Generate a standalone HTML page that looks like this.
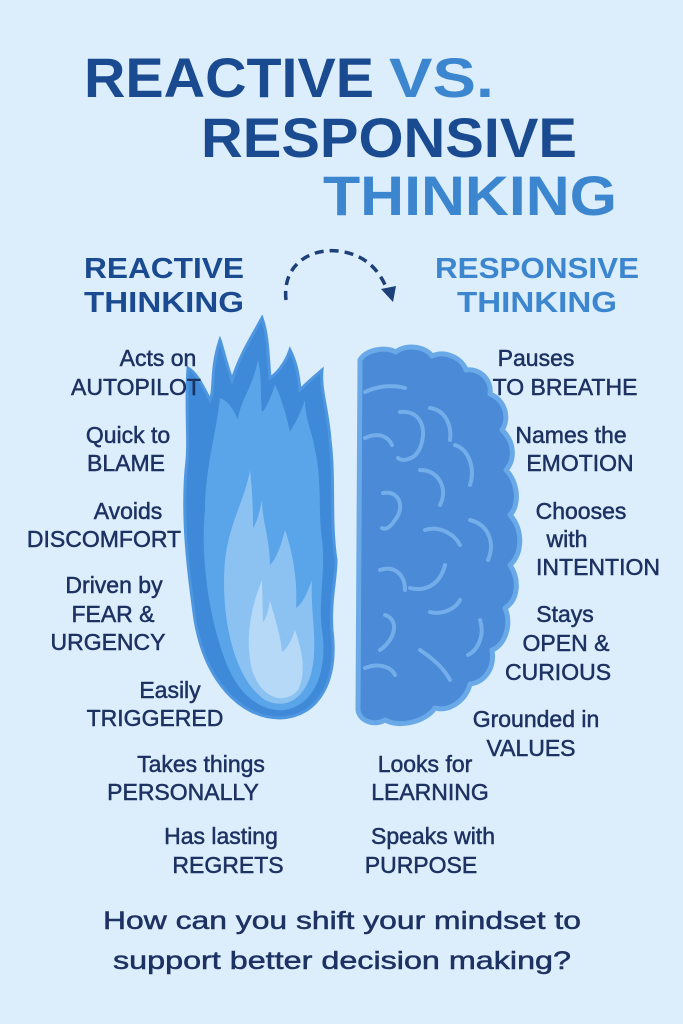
<!DOCTYPE html>
<html><head><meta charset="utf-8"><style>
html,body{margin:0;padding:0;background:#dcedfb;}
svg{display:block}
text{font-family:"Liberation Sans",sans-serif;}
.t{font-weight:bold;}
.l{font-size:23px;fill:#1d3262;text-anchor:middle;stroke:#1d3262;stroke-width:0.5;}
</style></head><body>
<svg width="683" height="1024" viewBox="0 0 683 1024">
<rect width="683" height="1024" fill="#dcedfb"/>
<!-- Title -->
<text x="84" y="97" class="t" font-size="56" fill="#1a4b91" textLength="290" lengthAdjust="spacingAndGlyphs">REACTIVE</text>
<text x="389" y="97" class="t" font-size="56" fill="#3b86cf" textLength="105" lengthAdjust="spacingAndGlyphs">VS.</text>
<text x="201" y="157" class="t" font-size="56" fill="#1a4b91" textLength="376" lengthAdjust="spacingAndGlyphs">RESPONSIVE</text>
<text x="323" y="215" class="t" font-size="56" fill="#3b86cf" textLength="294" lengthAdjust="spacingAndGlyphs">THINKING</text>
<!-- headers -->
<text x="164" y="278" class="t" font-size="29" fill="#1a4b91" text-anchor="middle" textLength="160" lengthAdjust="spacingAndGlyphs">REACTIVE</text>
<text x="164" y="312" class="t" font-size="29" fill="#1a4b91" text-anchor="middle" textLength="160" lengthAdjust="spacingAndGlyphs">THINKING</text>
<text x="537" y="278" class="t" font-size="29" fill="#3b86cf" text-anchor="middle" textLength="204" lengthAdjust="spacingAndGlyphs">RESPONSIVE</text>
<text x="537" y="312" class="t" font-size="29" fill="#3b86cf" text-anchor="middle" textLength="160" lengthAdjust="spacingAndGlyphs">THINKING</text>
<!-- arrow -->
<path d="M286 300 C282 265 310 248 338 251 C365 254 380 270 388 292" fill="none" stroke="#1d3f7a" stroke-width="3.5" stroke-dasharray="9 6"/>
<path d="M381 289 L396 286 L393 302 Z" fill="#1d3f7a"/>
<!-- flame -->
<path d="M262 318 C250 340 240 355 232 380 C225 360 222 345 220 340 C210 370 215 390 210 400 C200 380 195 372 188 368 C185 410 190 440 186 470 C182 520 188 570 195 620 C205 680 240 718 280 718 C320 716 338 680 332 630 C330 600 336 580 336 560 C330 520 335 480 330 440 C328 410 320 390 322 370 C310 380 305 385 300 390 C298 370 295 360 290 350 C285 365 275 375 270 378 C268 355 268 335 262 318 Z" fill="#3f8ad8" stroke="#4e97e0" stroke-width="3"/>
<path d="M258 360 C252 390 240 400 238 420 C232 405 225 400 220 398 C215 440 205 470 205 510 C200 560 210 620 225 660 C240 700 265 712 285 710 C315 705 328 670 322 630 C318 600 326 570 322 540 C318 510 322 480 315 450 C312 430 305 420 305 400 C298 420 292 428 290 432 C285 410 280 395 275 385 C270 400 265 410 262 412 C260 395 262 375 258 360 Z" fill="#5aa4ea"/>
<path d="M250 470 C245 500 230 520 225 560 C220 620 235 680 265 700 C285 710 305 700 312 670 C318 640 310 610 312 580 C305 600 300 605 296 608 C298 580 292 550 285 530 C280 550 275 560 270 565 C270 540 262 520 262 500 C258 520 255 525 253 528 C253 505 252 490 250 470 Z" fill="#8cc2f2"/>
<path d="M262 580 C250 610 245 640 252 670 C262 700 285 705 298 690 C308 670 300 645 295 630 C290 645 285 650 282 652 C280 630 272 610 270 600 C268 615 265 620 263 622 Z" fill="#b6d9f7"/>
<!-- brain -->
<path d="M360 360 C366 350 385 346 396 352 C405 344 425 346 432 356 C445 350 462 358 466 370 C480 368 492 380 490 394 C505 400 510 418 502 430 C515 442 515 460 506 470 C518 482 520 505 510 515 C524 530 522 555 510 565 C520 580 518 600 505 608 C512 625 505 645 492 650 C495 668 485 682 470 684 C466 700 450 712 435 708 C425 722 400 728 385 720 C375 726 360 722 358 710 Z" fill="#4a8ad6" stroke="#6aa9e8" stroke-width="5" stroke-linejoin="round"/>
<g fill="none" stroke="#73aeea" stroke-width="4" stroke-linecap="round">
<path d="M365 392 C380 385 395 385 405 388"/>
<path d="M400 412 C420 410 428 428 420 448 C415 460 402 462 398 458"/>
<path d="M430 408 C445 410 452 425 450 440"/>
<path d="M455 445 C470 450 475 470 470 485"/>
<path d="M365 438 C378 432 388 436 392 445"/>
<path d="M383 493 C400 490 405 508 395 520 C390 528 385 530 382 528"/>
<path d="M420 470 C440 470 448 490 440 505"/>
<path d="M470 520 C490 525 495 545 488 560"/>
<path d="M425 530 C440 525 455 535 460 545"/>
<path d="M380 570 C395 565 405 575 405 590"/>
<path d="M445 565 C440 585 425 592 410 588"/>
<path d="M460 600 C455 610 440 615 430 612"/>
<path d="M385 615 C400 620 395 640 380 650"/>
<path d="M480 620 C485 635 478 650 468 655"/>
<path d="M420 650 C435 660 445 670 450 680"/>
<path d="M365 668 C380 662 392 668 395 675"/>
</g>
<!-- left list -->
<g class="l">
<text x="158" y="366">Acts on</text>
<text x="136" y="395">AUTOPILOT</text>
<text x="128" y="443">Quick to</text>
<text x="126" y="471">BLAME</text>
<text x="128" y="519">Avoids</text>
<text x="104" y="547">DISCOMFORT</text>
<text x="114" y="593">Driven by</text>
<text x="113" y="622">FEAR &amp;</text>
<text x="108" y="650">URGENCY</text>
<text x="170" y="698">Easily</text>
<text x="155" y="726">TRIGGERED</text>
<text x="201" y="772">Takes things</text>
<text x="183" y="800">PERSONALLY</text>
<text x="221" y="844">Has lasting</text>
<text x="228" y="873">REGRETS</text>
<!-- right list -->
<text x="536" y="366">Pauses</text>
<text x="565" y="395">TO BREATHE</text>
<text x="571" y="443">Names the</text>
<text x="580" y="471">EMOTION</text>
<text x="581" y="519">Chooses</text>
<text x="567" y="547">with</text>
<text x="598" y="575">INTENTION</text>
<text x="565" y="622">Stays</text>
<text x="566" y="651">OPEN &amp;</text>
<text x="558" y="680">CURIOUS</text>
<text x="536" y="727">Grounded in</text>
<text x="531" y="756">VALUES</text>
<text x="425" y="772">Looks for</text>
<text x="430" y="800">LEARNING</text>
<text x="433" y="844">Speaks with</text>
<text x="421" y="873">PURPOSE</text>
</g>
<text x="342" y="929" font-size="25" fill="#1d3262" stroke="#1d3262" stroke-width="0.5" text-anchor="middle" textLength="478" lengthAdjust="spacingAndGlyphs">How can you shift your mindset to</text>
<text x="342" y="969" font-size="25" fill="#1d3262" stroke="#1d3262" stroke-width="0.5" text-anchor="middle" textLength="458" lengthAdjust="spacingAndGlyphs">support better decision making?</text>
</svg>
</body></html>
